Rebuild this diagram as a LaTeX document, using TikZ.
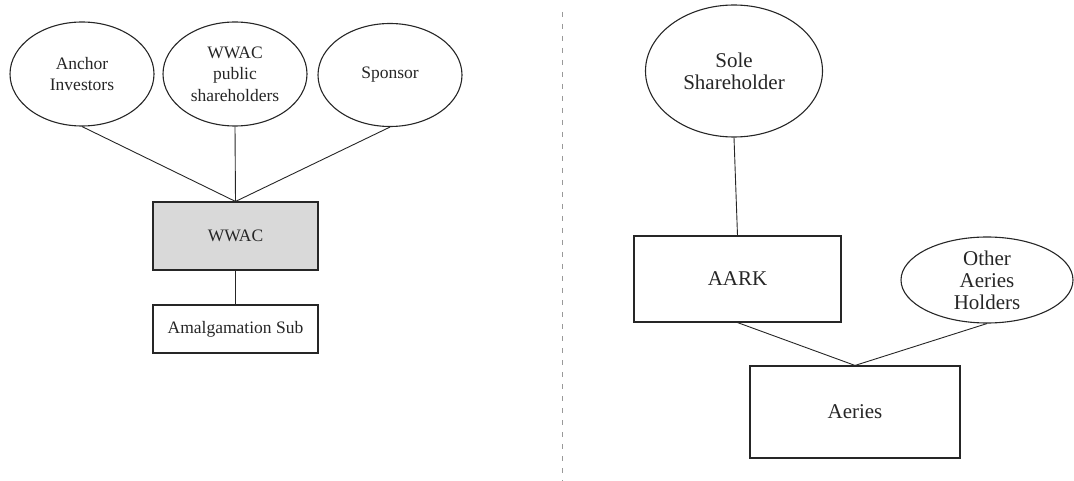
\documentclass[tikz,border=0pt]{standalone}
\usepackage{fontspec}
\setmainfont{Liberation Serif}
\usetikzlibrary{shapes.geometric}
\begin{document}
\begin{tikzpicture}[x=1pt,y=-1pt,
  ent/.style={draw=black!85,line width=1.1pt,ellipse,inner sep=0pt,align=center,text=black!85},
  box/.style={draw=black!85,line width=1.1pt,rectangle,inner sep=0pt,align=center,text=black!85},
  lsmall/.style={font=\fontsize{17.5}{21.5}\selectfont},
  lbig/.style={font=\fontsize{21}{22}\selectfont},
  conn/.style={draw=black!85,line width=0.9pt}]
\useasboundingbox (0,0) rectangle (1074,481);
% left
\node[ent,lsmall,minimum width=144pt,minimum height=104pt] (anchor) at (82,74) {Anchor\\Investors};
\node[ent,lsmall,minimum width=144pt,minimum height=104pt] (pub) at (235,74) {WWAC\\public\\shareholders};
\node[ent,lsmall,minimum width=144pt,minimum height=103pt] (spon) at (390,75) {Sponsor};
\node[box,lsmall,fill=black!15,minimum width=165pt,minimum height=68pt] (wwac) at (235.5,236) {WWAC};
\node[box,lsmall,minimum width=165pt,minimum height=48pt] (amal) at (235.5,329) {Amalgamation Sub};
\draw[conn] (anchor.south) -- (wwac.north);
\draw[conn] (pub.south) -- (wwac.north);
\draw[conn] (spon.south) -- (wwac.north);
\draw[conn] (wwac.south) -- (amal.north);
% divider
\coordinate (dtop) at (562,12);
\coordinate (dbot) at (562,481);
\draw[black!40,line width=0.9pt,dash pattern=on 5pt off 7pt] (dtop) -- (dbot);
% right
\node[ent,lbig,minimum width=177pt,minimum height=132pt] (sole) at (734,71) {Sole\\Shareholder};
\node[box,lbig,minimum width=207pt,minimum height=86pt] (aark) at (737.5,279) {AARK};
\node[ent,lbig,minimum width=172pt,minimum height=86pt] (other) at (987,280) {Other\\Aeries\\Holders};
\node[box,lbig,minimum width=210pt,minimum height=92pt] (aeries) at (855,412) {Aeries};
\draw[conn] (sole.south) -- (aark.north);
\draw[conn] (aark.south) -- (aeries.north);
\draw[conn] (other.south) -- (aeries.north);
\end{tikzpicture}
\end{document}
